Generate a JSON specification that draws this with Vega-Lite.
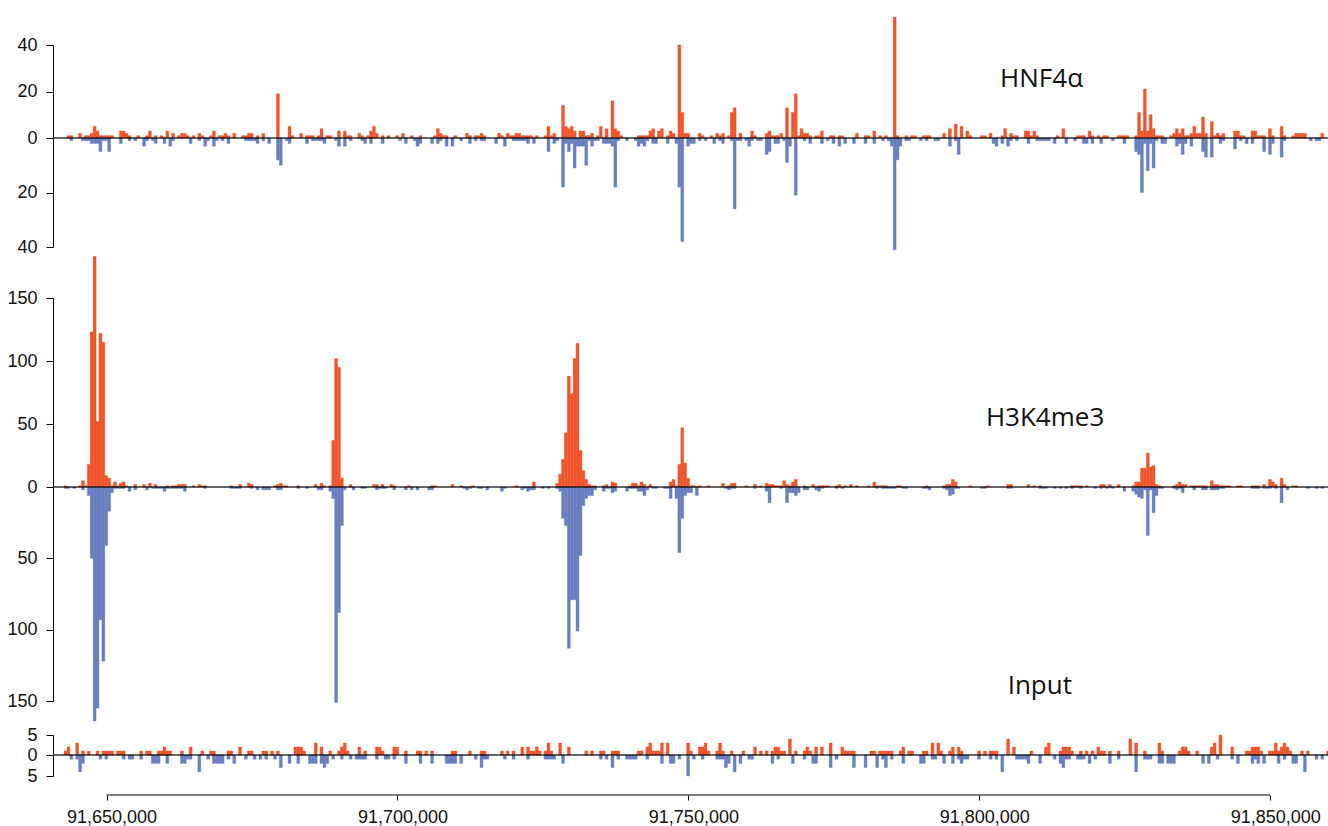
{
"$schema":"https://vega.github.io/schema/vega-lite/v6.json",
"padding":{"left":6,"top":16,"right":0,"bottom":0},
"background":"white",
"config":{"view":{"stroke":null},"axis":{"grid":false}},
"datasets":{
"hnf":[
{"x":91643200,"e":91643700,"f":1},{"x":91643700,"e":91644200,"f":1,"r":1},{"x":91645200,"e":91645700,"f":2},{"x":91645700,"e":91646200,"r":1},{"x":91646200,"e":91646700,"f":1,"r":1},{"x":91646700,"e":91647200,"f":1,"r":1},{"x":91647200,"e":91647700,"f":2,"r":2},{"x":91647700,"e":91648200,"f":5,"r":2},{"x":91648200,"e":91648700,"f":3,"r":2},{"x":91648700,"e":91649200,"f":1,"r":5},{"x":91649200,"e":91649700,"f":1,"r":1},{"x":91649700,"e":91650200,"f":1,"r":1},{"x":91650200,"e":91650700,"f":1,"r":5},{"x":91650700,"e":91651200,"f":1},{"x":91652200,"e":91652700,"f":3,"r":2},{"x":91652700,"e":91653200,"f":3},{"x":91653200,"e":91653700,"f":2},{"x":91653700,"e":91654200,"f":1,"r":1},{"x":91654700,"e":91655200,"r":1},{"x":91655200,"e":91655700,"f":1},{"x":91656200,"e":91656700,"r":3},{"x":91656700,"e":91657200,"f":1,"r":1},{"x":91657200,"e":91657700,"f":3},{"x":91657700,"e":91658200,"r":1},{"x":91658200,"e":91658700,"f":1,"r":2},{"x":91659200,"e":91659700,"f":1},{"x":91659700,"e":91660200,"r":2},{"x":91660200,"e":91660700,"f":3},{"x":91660700,"e":91661200,"r":3},{"x":91661200,"e":91661700,"f":2,"r":1},{"x":91662200,"e":91662700,"f":1},{"x":91662700,"e":91663200,"f":2},{"x":91663200,"e":91663700,"f":2},{"x":91663700,"e":91664200,"f":1},{"x":91664200,"e":91664700,"r":2},{"x":91664700,"e":91665200,"f":1},{"x":91665700,"e":91666200,"f":2,"r":1},{"x":91666200,"e":91666700,"f":1},{"x":91666700,"e":91667200,"r":3},{"x":91667200,"e":91667700,"r":1},{"x":91667700,"e":91668200,"f":1},{"x":91668200,"e":91668700,"f":3,"r":3},{"x":91668700,"e":91669200,"r":1},{"x":91669200,"e":91669700,"f":1},{"x":91669700,"e":91670200,"f":1,"r":1},{"x":91670200,"e":91670700,"f":2},{"x":91670700,"e":91671200,"f":1,"r":2},{"x":91671700,"e":91672200,"f":2},{"x":91673200,"e":91673700,"f":1},{"x":91673700,"e":91674200,"f":1,"r":1},{"x":91674200,"e":91674700,"f":2,"r":1},{"x":91674700,"e":91675200,"f":2,"r":1},{"x":91675200,"e":91675700,"r":1},{"x":91675700,"e":91676200,"f":1,"r":2},{"x":91676700,"e":91677200,"f":2,"r":1},{"x":91677700,"e":91678200,"r":2},{"x":91679200,"e":91679700,"f":19,"r":8},{"x":91679700,"e":91680200,"r":10},{"x":91680700,"e":91681200,"r":1},{"x":91681200,"e":91681700,"f":5,"r":2},{"x":91681700,"e":91682200,"f":1},{"x":91683200,"e":91683700,"f":2},{"x":91684200,"e":91684700,"f":1,"r":2},{"x":91684700,"e":91685200,"f":1},{"x":91685200,"e":91685700,"f":1,"r":1},{"x":91685700,"e":91686200,"r":1},{"x":91686200,"e":91686700,"f":1,"r":1},{"x":91686700,"e":91687200,"f":4,"r":1},{"x":91687200,"e":91687700,"r":2},{"x":91687700,"e":91688200,"f":1},{"x":91688200,"e":91688700,"f":1},{"x":91689200,"e":91689700,"r":1},{"x":91689700,"e":91690200,"f":3,"r":3},{"x":91690700,"e":91691200,"f":3,"r":3},{"x":91691200,"e":91691700,"f":1},{"x":91691700,"e":91692200,"f":1,"r":1},{"x":91693200,"e":91693700,"f":2},{"x":91693700,"e":91694200,"f":1,"r":1},{"x":91694200,"e":91694700,"r":2},{"x":91694700,"e":91695200,"f":1},{"x":91695200,"e":91695700,"f":3,"r":2},{"x":91695700,"e":91696200,"f":5},{"x":91696200,"e":91696700,"f":2},{"x":91697200,"e":91697700,"f":1,"r":2},{"x":91698200,"e":91698700,"f":1},{"x":91699700,"e":91700200,"f":1},{"x":91700200,"e":91700700,"r":1},{"x":91700700,"e":91701200,"f":2},{"x":91701200,"e":91701700,"r":2},{"x":91702200,"e":91702700,"f":1},{"x":91702700,"e":91703200,"r":1},{"x":91703200,"e":91703700,"r":3},{"x":91703700,"e":91704200,"f":1,"r":2},{"x":91705700,"e":91706200,"r":2},{"x":91706200,"e":91706700,"f":1},{"x":91706700,"e":91707200,"f":4,"r":2},{"x":91707200,"e":91707700,"f":2,"r":1},{"x":91707700,"e":91708200,"f":1},{"x":91708200,"e":91708700,"f":1,"r":3},{"x":91709200,"e":91709700,"r":3},{"x":91709700,"e":91710200,"f":1},{"x":91710700,"e":91711200,"r":1},{"x":91711700,"e":91712200,"f":2},{"x":91712200,"e":91712700,"f":1,"r":2},{"x":91713200,"e":91713700,"f":1,"r":1},{"x":91713700,"e":91714200,"f":1},{"x":91714200,"e":91714700,"f":2,"r":1},{"x":91714700,"e":91715200,"f":1,"r":1},{"x":91716700,"e":91717200,"r":2},{"x":91717200,"e":91717700,"f":2},{"x":91717700,"e":91718200,"f":1},{"x":91718200,"e":91718700,"r":3},{"x":91718700,"e":91719200,"f":2},{"x":91719200,"e":91719700,"f":1},{"x":91719700,"e":91720200,"f":1,"r":1},{"x":91720200,"e":91720700,"f":2,"r":1},{"x":91720700,"e":91721200,"f":2,"r":1},{"x":91721200,"e":91721700,"f":1,"r":1},{"x":91721700,"e":91722200,"f":1,"r":1},{"x":91722200,"e":91722700,"f":1,"r":2},{"x":91722700,"e":91723200,"f":1},{"x":91723200,"e":91723700,"r":2},{"x":91723700,"e":91724200,"f":1},{"x":91725200,"e":91725700,"f":1},{"x":91725700,"e":91726200,"f":5,"r":5},{"x":91726200,"e":91726700,"f":1},{"x":91726700,"e":91727200,"f":2,"r":2},{"x":91727200,"e":91727700,"r":1},{"x":91728200,"e":91728700,"f":14,"r":18},{"x":91728700,"e":91729200,"f":5,"r":2},{"x":91729200,"e":91729700,"f":4,"r":5},{"x":91729700,"e":91730200,"f":5,"r":2},{"x":91730200,"e":91730700,"f":3,"r":11},{"x":91730700,"e":91731200,"r":3},{"x":91731200,"e":91731700,"f":3,"r":3},{"x":91731700,"e":91732200,"f":3,"r":3},{"x":91732200,"e":91732700,"f":1,"r":10},{"x":91732700,"e":91733200,"f":1,"r":1},{"x":91733200,"e":91733700,"f":2,"r":3},{"x":91733700,"e":91734200,"r":1},{"x":91734200,"e":91734700,"f":1,"r":1},{"x":91734700,"e":91735200,"f":5},{"x":91735200,"e":91735700,"r":2},{"x":91735700,"e":91736200,"f":4,"r":2},{"x":91736200,"e":91736700,"r":2},{"x":91736700,"e":91737200,"f":16,"r":3},{"x":91737200,"e":91737700,"f":4,"r":18},{"x":91737700,"e":91738200,"f":3,"r":1},{"x":91738200,"e":91738700,"f":1},{"x":91739200,"e":91739700,"r":1},{"x":91740700,"e":91741200,"r":1},{"x":91741200,"e":91741700,"f":1,"r":3},{"x":91741700,"e":91742200,"f":1,"r":2},{"x":91742200,"e":91742700,"f":1,"r":3},{"x":91742700,"e":91743200,"f":1,"r":1},{"x":91743200,"e":91743700,"f":3},{"x":91743700,"e":91744200,"f":4,"r":2},{"x":91744200,"e":91744700,"r":2},{"x":91744700,"e":91745200,"f":3},{"x":91745200,"e":91745700,"f":4},{"x":91746200,"e":91746700,"f":1,"r":2},{"x":91746700,"e":91747200,"f":3},{"x":91747200,"e":91747700,"f":2},{"x":91747700,"e":91748200,"r":2},{"x":91748200,"e":91748700,"f":40,"r":18},{"x":91748700,"e":91749200,"f":11,"r":38},{"x":91749200,"e":91749700,"f":2},{"x":91749700,"e":91750200,"f":2,"r":3},{"x":91750200,"e":91750700,"r":2},{"x":91750700,"e":91751200,"r":2},{"x":91751700,"e":91752200,"f":2,"r":1},{"x":91752200,"e":91752700,"f":1},{"x":91752700,"e":91753200,"r":1},{"x":91753700,"e":91754200,"f":1},{"x":91754200,"e":91754700,"r":2},{"x":91754700,"e":91755200,"f":2},{"x":91755200,"e":91755700,"f":1,"r":1},{"x":91755700,"e":91756200,"f":2,"r":2},{"x":91756700,"e":91757200,"f":1},{"x":91757200,"e":91757700,"f":11,"r":1},{"x":91757700,"e":91758200,"f":13,"r":26},{"x":91758200,"e":91758700,"r":1},{"x":91758700,"e":91759200,"f":2,"r":1},{"x":91759700,"e":91760200,"r":1},{"x":91760200,"e":91760700,"r":3},{"x":91760700,"e":91761200,"f":3,"r":1},{"x":91761200,"e":91761700,"f":1},{"x":91761700,"e":91762200,"r":1},{"x":91762200,"e":91762700,"r":1},{"x":91763200,"e":91763700,"f":2,"r":6},{"x":91763700,"e":91764200,"f":3,"r":5},{"x":91764200,"e":91764700,"f":1},{"x":91764700,"e":91765200,"f":1,"r":2},{"x":91765200,"e":91765700,"f":1,"r":2},{"x":91765700,"e":91766200,"f":2},{"x":91766200,"e":91766700,"r":1},{"x":91766700,"e":91767200,"f":13,"r":9},{"x":91767200,"e":91767700,"r":3},{"x":91767700,"e":91768200,"f":11},{"x":91768200,"e":91768700,"f":19,"r":21},{"x":91768700,"e":91769200,"f":1},{"x":91769200,"e":91769700,"f":4},{"x":91769700,"e":91770200,"f":2,"r":1},{"x":91770200,"e":91770700,"f":2},{"x":91770700,"e":91771200,"f":1,"r":2},{"x":91771700,"e":91772200,"f":1},{"x":91772200,"e":91772700,"f":1},{"x":91772700,"e":91773200,"f":3,"r":2},{"x":91773700,"e":91774200,"r":1},{"x":91774200,"e":91774700,"f":1},{"x":91774700,"e":91775200,"f":1,"r":2},{"x":91775700,"e":91776200,"f":1,"r":3},{"x":91776200,"e":91776700,"f":1},{"x":91776700,"e":91777200,"r":2},{"x":91778200,"e":91778700,"r":2},{"x":91778700,"e":91779200,"f":2},{"x":91780200,"e":91780700,"f":1,"r":2},{"x":91780700,"e":91781200,"f":1},{"x":91781700,"e":91782200,"f":3,"r":2},{"x":91782700,"e":91783200,"f":1},{"x":91783200,"e":91783700,"r":1},{"x":91783700,"e":91784200,"f":1},{"x":91784200,"e":91784700,"r":1},{"x":91784700,"e":91785200,"r":3},{"x":91785200,"e":91785700,"f":52,"r":41},{"x":91785700,"e":91786200,"f":1,"r":8},{"x":91786200,"e":91786700,"r":3},{"x":91787200,"e":91787700,"f":1,"r":1},{"x":91787700,"e":91788200,"r":1},{"x":91788200,"e":91788700,"f":1},{"x":91788700,"e":91789200,"f":1},{"x":91789700,"e":91790200,"r":1},{"x":91790200,"e":91790700,"f":1},{"x":91790700,"e":91791200,"f":1,"r":1},{"x":91791200,"e":91791700,"f":1},{"x":91792200,"e":91792700,"r":1},{"x":91792700,"e":91793200,"r":1},{"x":91793700,"e":91794200,"f":2},{"x":91794700,"e":91795200,"f":4,"r":3},{"x":91795700,"e":91796200,"f":6,"r":1},{"x":91796200,"e":91796700,"r":6},{"x":91796700,"e":91797200,"f":5},{"x":91797700,"e":91798200,"f":3},{"x":91798200,"e":91798700,"f":1},{"x":91800200,"e":91800700,"f":1},{"x":91800700,"e":91801200,"f":1},{"x":91801700,"e":91802200,"f":2},{"x":91802200,"e":91802700,"r":2},{"x":91802700,"e":91803200,"r":3},{"x":91803700,"e":91804200,"f":1,"r":2},{"x":91804200,"e":91804700,"f":4},{"x":91804700,"e":91805200,"r":3},{"x":91805200,"e":91805700,"f":2,"r":1},{"x":91805700,"e":91806200,"f":1},{"x":91806200,"e":91806700,"f":1,"r":1},{"x":91807700,"e":91808200,"f":3},{"x":91808200,"e":91808700,"f":3,"r":2},{"x":91808700,"e":91809200,"f":1},{"x":91809200,"e":91809700,"f":3},{"x":91809700,"e":91810200,"f":1,"r":1},{"x":91810200,"e":91810700,"r":1},{"x":91810700,"e":91811200,"r":1},{"x":91811200,"e":91811700,"r":1},{"x":91811700,"e":91812200,"r":1},{"x":91812700,"e":91813200,"r":2},{"x":91813200,"e":91813700,"f":1},{"x":91814200,"e":91814700,"f":4},{"x":91814700,"e":91815200,"r":2},{"x":91816200,"e":91816700,"r":1},{"x":91816700,"e":91817200,"f":1},{"x":91817200,"e":91817700,"f":1},{"x":91817700,"e":91818200,"f":1,"r":2},{"x":91818200,"e":91818700,"r":2},{"x":91818700,"e":91819200,"f":3},{"x":91819200,"e":91819700,"f":1,"r":2},{"x":91820200,"e":91820700,"f":1},{"x":91820700,"e":91821200,"r":2},{"x":91821200,"e":91821700,"f":1},{"x":91821700,"e":91822200,"f":1},{"x":91822700,"e":91823200,"r":1},{"x":91823700,"e":91824200,"f":1},{"x":91824200,"e":91824700,"f":1},{"x":91824700,"e":91825200,"f":1,"r":2},{"x":91825200,"e":91825700,"f":1},{"x":91826700,"e":91827200,"f":1,"r":5},{"x":91827200,"e":91827700,"f":11,"r":6},{"x":91827700,"e":91828200,"f":3,"r":20},{"x":91828200,"e":91828700,"f":21,"r":2},{"x":91828700,"e":91829200,"f":3,"r":12},{"x":91829200,"e":91829700,"f":10,"r":2},{"x":91829700,"e":91830200,"f":4,"r":11},{"x":91830200,"e":91830700,"f":1,"r":1},{"x":91830700,"e":91831200,"f":1},{"x":91831200,"e":91831700,"f":1,"r":2},{"x":91831700,"e":91832200,"r":2},{"x":91832700,"e":91833200,"f":1},{"x":91833200,"e":91833700,"f":2},{"x":91833700,"e":91834200,"f":4,"r":3},{"x":91834200,"e":91834700,"f":2,"r":2},{"x":91834700,"e":91835200,"f":4,"r":6},{"x":91835200,"e":91835700,"f":1,"r":2},{"x":91835700,"e":91836200,"f":1},{"x":91836200,"e":91836700,"f":2,"r":3},{"x":91836700,"e":91837200,"f":5},{"x":91837200,"e":91837700,"f":2},{"x":91837700,"e":91838200,"f":2},{"x":91838200,"e":91838700,"f":9,"r":5},{"x":91838700,"e":91839200,"f":2,"r":7},{"x":91839700,"e":91840200,"f":7,"r":7},{"x":91840200,"e":91840700,"f":1},{"x":91840700,"e":91841200,"f":2},{"x":91841200,"e":91841700,"f":1,"r":2},{"x":91841700,"e":91842200,"f":2,"r":1},{"x":91843700,"e":91844200,"f":3,"r":4},{"x":91844200,"e":91844700,"f":3},{"x":91844700,"e":91845200,"f":1,"r":1},{"x":91845200,"e":91845700,"f":1},{"x":91845700,"e":91846200,"r":2},{"x":91846700,"e":91847200,"f":3,"r":2},{"x":91847200,"e":91847700,"f":3},{"x":91847700,"e":91848200,"f":1},{"x":91848200,"e":91848700,"f":1},{"x":91848700,"e":91849200,"f":1,"r":5},{"x":91849700,"e":91850200,"f":4,"r":6},{"x":91850200,"e":91850700,"f":1,"r":2},{"x":91851700,"e":91852200,"f":5,"r":7},{"x":91852200,"e":91852700,"f":1,"r":1},{"x":91853700,"e":91854200,"f":1},{"x":91854200,"e":91854700,"f":2},{"x":91854700,"e":91855200,"f":2},{"x":91855200,"e":91855700,"f":2},{"x":91855700,"e":91856200,"f":2},{"x":91856700,"e":91857200,"r":1},{"x":91857700,"e":91858200,"r":1},{"x":91858200,"e":91858700,"r":1},{"x":91858700,"e":91859200,"f":2}
],
"h3k":[
{"x":91642700,"e":91643200,"f":1,"r":1},{"x":91643200,"e":91643700,"r":1},{"x":91644200,"e":91644700,"r":1},{"x":91645200,"e":91645700,"f":1},{"x":91645700,"e":91646200,"f":5,"r":2},{"x":91646200,"e":91646700,"f":1},{"x":91646700,"e":91647200,"f":18,"r":6},{"x":91647200,"e":91647700,"f":123,"r":50},{"x":91647700,"e":91648200,"f":183,"r":164},{"x":91648200,"e":91648700,"f":52,"r":155},{"x":91648700,"e":91649200,"f":122,"r":93},{"x":91649200,"e":91649700,"f":115,"r":122},{"x":91649700,"e":91650200,"f":9,"r":41},{"x":91650200,"e":91650700,"f":7,"r":17},{"x":91650700,"e":91651200,"f":1,"r":4},{"x":91651200,"e":91651700,"f":4,"r":1},{"x":91651700,"e":91652200,"f":1,"r":1},{"x":91652200,"e":91652700,"f":3,"r":1},{"x":91652700,"e":91653200,"f":4,"r":1},{"x":91653200,"e":91653700,"f":1},{"x":91653700,"e":91654200,"r":3},{"x":91654700,"e":91655200,"f":2,"r":2},{"x":91656200,"e":91656700,"f":2},{"x":91656700,"e":91657200,"r":2},{"x":91657200,"e":91657700,"f":3},{"x":91657700,"e":91658200,"r":1},{"x":91658200,"e":91658700,"f":2,"r":1},{"x":91658700,"e":91659200,"r":1},{"x":91659200,"e":91659700,"r":1},{"x":91659700,"e":91660200,"r":3},{"x":91660200,"e":91660700,"f":1,"r":1},{"x":91660700,"e":91661200,"r":1},{"x":91661200,"e":91661700,"f":1,"r":1},{"x":91661700,"e":91662200,"f":1,"r":1},{"x":91662200,"e":91662700,"f":2,"r":1},{"x":91662700,"e":91663200,"f":2,"r":1},{"x":91663200,"e":91663700,"f":2,"r":3},{"x":91664700,"e":91665200,"f":1},{"x":91665700,"e":91666200,"f":2},{"x":91666200,"e":91666700,"f":1},{"x":91666700,"e":91667200,"f":1,"r":1},{"x":91671200,"e":91671700,"f":1,"r":1},{"x":91671700,"e":91672200,"r":1},{"x":91672200,"e":91672700,"r":1},{"x":91672700,"e":91673200,"f":2,"r":1},{"x":91674200,"e":91674700,"f":3},{"x":91674700,"e":91675200,"f":2,"r":1},{"x":91675700,"e":91676200,"r":2},{"x":91676700,"e":91677200,"r":2},{"x":91677200,"e":91677700,"r":2},{"x":91677700,"e":91678200,"r":2},{"x":91678700,"e":91679200,"f":1},{"x":91679200,"e":91679700,"f":2,"r":2},{"x":91679700,"e":91680200,"f":3,"r":2},{"x":91680200,"e":91680700,"f":1},{"x":91680700,"e":91681200,"f":1},{"x":91682700,"e":91683200,"f":1,"r":1},{"x":91684200,"e":91684700,"r":1},{"x":91685700,"e":91686200,"f":2},{"x":91686200,"e":91686700,"r":2},{"x":91686700,"e":91687200,"f":3,"r":2},{"x":91687200,"e":91687700,"f":1},{"x":91688200,"e":91688700,"f":1,"r":3},{"x":91688700,"e":91689200,"f":37,"r":8},{"x":91689200,"e":91689700,"f":102,"r":151},{"x":91689700,"e":91690200,"f":95,"r":88},{"x":91690200,"e":91690700,"f":7,"r":27},{"x":91690700,"e":91691200,"r":2},{"x":91691700,"e":91692200,"f":2},{"x":91692200,"e":91692700,"r":2},{"x":91693700,"e":91694200,"r":1},{"x":91694200,"e":91694700,"r":1},{"x":91695700,"e":91696200,"f":2},{"x":91696200,"e":91696700,"f":2,"r":2},{"x":91696700,"e":91697200,"r":1},{"x":91697200,"e":91697700,"f":2,"r":1},{"x":91697700,"e":91698200,"r":1},{"x":91698700,"e":91699200,"f":2},{"x":91699200,"e":91699700,"f":1,"r":2},{"x":91701200,"e":91701700,"r":2},{"x":91701700,"e":91702200,"f":1},{"x":91702200,"e":91702700,"r":2},{"x":91703200,"e":91703700,"r":2},{"x":91705200,"e":91705700,"r":2},{"x":91705700,"e":91706200,"f":1,"r":2},{"x":91706200,"e":91706700,"f":1},{"x":91709200,"e":91709700,"f":2},{"x":91710700,"e":91711200,"f":1},{"x":91711200,"e":91711700,"r":1},{"x":91711700,"e":91712200,"r":2},{"x":91712200,"e":91712700,"r":1},{"x":91712700,"e":91713200,"f":1},{"x":91713700,"e":91714200,"r":1},{"x":91714200,"e":91714700,"r":1},{"x":91715200,"e":91715700,"r":2},{"x":91717700,"e":91718200,"r":3},{"x":91718200,"e":91718700,"r":1},{"x":91720200,"e":91720700,"f":1},{"x":91721200,"e":91721700,"r":2},{"x":91721700,"e":91722200,"r":1},{"x":91722200,"e":91722700,"r":3},{"x":91722700,"e":91723200,"r":2},{"x":91723200,"e":91723700,"f":4,"r":2},{"x":91724700,"e":91725200,"r":1},{"x":91725700,"e":91726200,"r":1},{"x":91727200,"e":91727700,"f":3,"r":1},{"x":91727700,"e":91728200,"f":10,"r":3},{"x":91728200,"e":91728700,"f":22,"r":22},{"x":91728700,"e":91729200,"f":43,"r":27},{"x":91729200,"e":91729700,"f":88,"r":113},{"x":91729700,"e":91730200,"f":74,"r":79},{"x":91730200,"e":91730700,"f":102,"r":79},{"x":91730700,"e":91731200,"f":114,"r":101},{"x":91731200,"e":91731700,"f":29,"r":48},{"x":91731700,"e":91732200,"f":13,"r":13},{"x":91732200,"e":91732700,"f":6,"r":8},{"x":91732700,"e":91733200,"f":2,"r":6},{"x":91733200,"e":91733700,"f":1,"r":6},{"x":91733700,"e":91734200,"f":1,"r":2},{"x":91735200,"e":91735700,"f":1,"r":3},{"x":91735700,"e":91736200,"f":2,"r":1},{"x":91736200,"e":91736700,"r":1},{"x":91736700,"e":91737200,"f":4,"r":4},{"x":91737200,"e":91737700,"f":3,"r":3},{"x":91739200,"e":91739700,"r":3},{"x":91739700,"e":91740200,"f":1,"r":1},{"x":91740200,"e":91740700,"f":3,"r":1},{"x":91740700,"e":91741200,"f":3,"r":1},{"x":91741200,"e":91741700,"f":1,"r":3},{"x":91741700,"e":91742200,"f":4,"r":3},{"x":91742200,"e":91742700,"f":2,"r":6},{"x":91742700,"e":91743200,"r":2},{"x":91743200,"e":91743700,"f":2},{"x":91743700,"e":91744200,"r":1},{"x":91744200,"e":91744700,"r":1},{"x":91745700,"e":91746200,"r":1},{"x":91746200,"e":91746700,"r":1},{"x":91746700,"e":91747200,"f":4,"r":8},{"x":91747200,"e":91747700,"f":6},{"x":91747700,"e":91748200,"f":1,"r":8},{"x":91748200,"e":91748700,"f":18,"r":46},{"x":91748700,"e":91749200,"f":47,"r":22},{"x":91749200,"e":91749700,"f":19,"r":6},{"x":91749700,"e":91750200,"f":7,"r":4},{"x":91750200,"e":91750700,"f":1,"r":4},{"x":91750700,"e":91751200,"f":1},{"x":91751200,"e":91751700,"r":6},{"x":91751700,"e":91752200,"f":1},{"x":91753200,"e":91753700,"f":1},{"x":91755700,"e":91756200,"f":3},{"x":91756200,"e":91756700,"r":1},{"x":91756700,"e":91757200,"f":1,"r":2},{"x":91757200,"e":91757700,"f":3,"r":1},{"x":91757700,"e":91758200,"f":3,"r":1},{"x":91759700,"e":91760200,"f":1},{"x":91761200,"e":91761700,"f":2,"r":1},{"x":91762200,"e":91762700,"f":1},{"x":91763200,"e":91763700,"f":3,"r":3},{"x":91763700,"e":91764200,"f":2,"r":11},{"x":91764200,"e":91764700,"f":2},{"x":91764700,"e":91765200,"f":1},{"x":91765200,"e":91765700,"f":1},{"x":91765700,"e":91766200,"f":1,"r":1},{"x":91766200,"e":91766700,"f":5},{"x":91766700,"e":91767200,"f":2,"r":11},{"x":91767200,"e":91767700,"f":1,"r":4},{"x":91767700,"e":91768200,"f":4,"r":4},{"x":91768200,"e":91768700,"f":6,"r":6},{"x":91768700,"e":91769200,"r":4},{"x":91769700,"e":91770200,"f":1,"r":2},{"x":91770200,"e":91770700,"r":2},{"x":91771200,"e":91771700,"f":2},{"x":91771700,"e":91772200,"r":2},{"x":91772200,"e":91772700,"f":1,"r":3},{"x":91772700,"e":91773200,"f":1,"r":1},{"x":91773200,"e":91773700,"f":1},{"x":91773700,"e":91774200,"f":1},{"x":91775200,"e":91775700,"f":1,"r":1},{"x":91775700,"e":91776200,"f":2},{"x":91776200,"e":91776700,"r":1},{"x":91776700,"e":91777200,"f":1},{"x":91777700,"e":91778200,"f":2},{"x":91778700,"e":91779200,"f":1},{"x":91780700,"e":91781200,"f":1},{"x":91781700,"e":91782200,"f":4},{"x":91782200,"e":91782700,"f":1,"r":1},{"x":91782700,"e":91783200,"f":1},{"x":91783200,"e":91783700,"f":1,"r":1},{"x":91783700,"e":91784200,"f":1,"r":1},{"x":91784200,"e":91784700,"r":1},{"x":91784700,"e":91785200,"r":1},{"x":91785200,"e":91785700,"r":1},{"x":91785700,"e":91786200,"f":1},{"x":91786200,"e":91786700,"f":1},{"x":91786700,"e":91787200,"r":1},{"x":91787200,"e":91787700,"r":1},{"x":91790200,"e":91790700,"r":1},{"x":91790700,"e":91791200,"f":1,"r":1},{"x":91791200,"e":91791700,"r":2},{"x":91793700,"e":91794200,"f":1,"r":1},{"x":91794200,"e":91794700,"f":2,"r":2},{"x":91794700,"e":91795200,"f":2,"r":6},{"x":91795200,"e":91795700,"f":6,"r":5},{"x":91795700,"e":91796200,"f":4,"r":1},{"x":91796200,"e":91796700,"r":1},{"x":91798200,"e":91798700,"f":1},{"x":91800200,"e":91800700,"r":1},{"x":91800700,"e":91801200,"r":1},{"x":91801200,"e":91801700,"f":1},{"x":91804700,"e":91805200,"f":2,"r":1},{"x":91805200,"e":91805700,"f":2,"r":1},{"x":91808200,"e":91808700,"f":2},{"x":91809200,"e":91809700,"f":1},{"x":91810200,"e":91810700,"f":1,"r":1},{"x":91810700,"e":91811200,"r":1},{"x":91811200,"e":91811700,"r":1},{"x":91812700,"e":91813200,"r":1},{"x":91813700,"e":91814200,"r":1},{"x":91814700,"e":91815200,"r":1},{"x":91815700,"e":91816200,"f":1,"r":1},{"x":91816200,"e":91816700,"f":1},{"x":91816700,"e":91817200,"f":1},{"x":91817200,"e":91817700,"f":1,"r":1},{"x":91818200,"e":91818700,"f":1},{"x":91819700,"e":91820200,"r":1},{"x":91820700,"e":91821200,"f":2,"r":1},{"x":91821200,"e":91821700,"f":2},{"x":91821700,"e":91822200,"r":1},{"x":91822200,"e":91822700,"f":2},{"x":91822700,"e":91823200,"r":1},{"x":91823700,"e":91824200,"f":2},{"x":91824700,"e":91825200,"r":3},{"x":91826200,"e":91826700,"f":1,"r":3},{"x":91826700,"e":91827200,"f":4,"r":5},{"x":91827200,"e":91827700,"f":4,"r":7},{"x":91827700,"e":91828200,"f":15,"r":8},{"x":91828200,"e":91828700,"f":15,"r":2},{"x":91828700,"e":91829200,"f":27,"r":34},{"x":91829200,"e":91829700,"f":16,"r":2},{"x":91829700,"e":91830200,"f":17,"r":18},{"x":91830200,"e":91830700,"f":2,"r":6},{"x":91830700,"e":91831200,"f":1,"r":1},{"x":91831200,"e":91831700,"r":1},{"x":91833200,"e":91833700,"f":1,"r":1},{"x":91833700,"e":91834200,"f":2,"r":2},{"x":91834200,"e":91834700,"f":4,"r":1},{"x":91834700,"e":91835200,"f":2,"r":4},{"x":91835200,"e":91835700,"f":2},{"x":91836200,"e":91836700,"f":1},{"x":91836700,"e":91837200,"f":1,"r":2},{"x":91837200,"e":91837700,"f":1},{"x":91837700,"e":91838200,"f":1},{"x":91838200,"e":91838700,"f":1,"r":2},{"x":91838700,"e":91839200,"f":1,"r":2},{"x":91839700,"e":91840200,"f":5,"r":2},{"x":91840200,"e":91840700,"f":2,"r":2},{"x":91840700,"e":91841200,"f":2,"r":2},{"x":91841200,"e":91841700,"f":1,"r":1},{"x":91841700,"e":91842200,"f":1,"r":1},{"x":91842200,"e":91842700,"f":1},{"x":91842700,"e":91843200,"f":1},{"x":91844200,"e":91844700,"f":1},{"x":91844700,"e":91845200,"f":1},{"x":91846700,"e":91847200,"f":1,"r":1},{"x":91847200,"e":91847700,"f":1,"r":1},{"x":91847700,"e":91848200,"f":1,"r":1},{"x":91848700,"e":91849200,"f":2,"r":1},{"x":91849200,"e":91849700,"r":1},{"x":91849700,"e":91850200,"f":6,"r":1},{"x":91850200,"e":91850700,"f":4},{"x":91850700,"e":91851200,"f":2,"r":1},{"x":91851700,"e":91852200,"f":7,"r":11},{"x":91852200,"e":91852700,"f":2},{"x":91852700,"e":91853200,"r":2},{"x":91853700,"e":91854200,"f":1},{"x":91854200,"e":91854700,"f":1},{"x":91856200,"e":91856700,"r":1},{"x":91857700,"e":91858200,"r":1},{"x":91858700,"e":91859200,"r":1}
],
"inp":[
{"x":91642700,"e":91643200,"f":1},{"x":91643200,"e":91643700,"f":2},{"x":91643700,"e":91644200,"r":1},{"x":91644700,"e":91645200,"f":3,"r":1},{"x":91645200,"e":91645700,"r":4},{"x":91645700,"e":91646200,"f":1,"r":2},{"x":91646700,"e":91647200,"f":1},{"x":91648200,"e":91648700,"f":1},{"x":91648700,"e":91649200,"r":1},{"x":91649200,"e":91649700,"f":1},{"x":91649700,"e":91650200,"f":1,"r":1},{"x":91650200,"e":91650700,"f":1},{"x":91650700,"e":91651200,"f":1},{"x":91651700,"e":91652200,"f":1},{"x":91652200,"e":91652700,"f":1},{"x":91652700,"e":91653200,"f":1,"r":1},{"x":91653700,"e":91654200,"r":1},{"x":91654200,"e":91654700,"r":1},{"x":91655700,"e":91656200,"f":1,"r":1},{"x":91656700,"e":91657200,"f":1},{"x":91657200,"e":91657700,"f":1},{"x":91657700,"e":91658200,"r":2},{"x":91658200,"e":91658700,"r":2},{"x":91658700,"e":91659200,"f":1,"r":2},{"x":91659200,"e":91659700,"f":1},{"x":91659700,"e":91660200,"f":2},{"x":91660200,"e":91660700,"f":1,"r":2},{"x":91660700,"e":91661200,"f":1},{"x":91662700,"e":91663200,"f":1,"r":2},{"x":91663200,"e":91663700,"r":2},{"x":91663700,"e":91664200,"r":1},{"x":91664200,"e":91664700,"f":2,"r":1},{"x":91665700,"e":91666200,"r":4},{"x":91666200,"e":91666700,"f":1},{"x":91667200,"e":91667700,"r":1},{"x":91667700,"e":91668200,"f":1},{"x":91668200,"e":91668700,"f":1,"r":2},{"x":91668700,"e":91669200,"r":2},{"x":91669200,"e":91669700,"r":2},{"x":91669700,"e":91670200,"r":2},{"x":91670700,"e":91671200,"f":1,"r":1},{"x":91671200,"e":91671700,"f":1},{"x":91671700,"e":91672200,"r":2},{"x":91672700,"e":91673200,"f":2},{"x":91673700,"e":91674200,"r":1},{"x":91674200,"e":91674700,"f":1},{"x":91674700,"e":91675200,"f":1},{"x":91675200,"e":91675700,"r":1},{"x":91676200,"e":91676700,"r":1},{"x":91676700,"e":91677200,"f":1},{"x":91677200,"e":91677700,"f":1,"r":1},{"x":91678200,"e":91678700,"f":1},{"x":91678700,"e":91679200,"r":1},{"x":91679200,"e":91679700,"f":1},{"x":91679700,"e":91680200,"r":3},{"x":91681200,"e":91681700,"r":2},{"x":91682200,"e":91682700,"f":2},{"x":91682700,"e":91683200,"f":2,"r":2},{"x":91683200,"e":91683700,"f":2},{"x":91683700,"e":91684200,"f":1},{"x":91684700,"e":91685200,"r":2},{"x":91685200,"e":91685700,"r":2},{"x":91685700,"e":91686200,"f":3,"r":2},{"x":91686700,"e":91687200,"f":2,"r":2},{"x":91687200,"e":91687700,"r":3},{"x":91687700,"e":91688200,"r":2},{"x":91688200,"e":91688700,"f":1},{"x":91688700,"e":91689200,"r":1},{"x":91689700,"e":91690200,"f":1},{"x":91690200,"e":91690700,"f":2,"r":1},{"x":91690700,"e":91691200,"f":3},{"x":91691200,"e":91691700,"f":1},{"x":91691700,"e":91692200,"r":1},{"x":91692700,"e":91693200,"r":1},{"x":91693200,"e":91693700,"f":2,"r":1},{"x":91693700,"e":91694200,"r":1},{"x":91694200,"e":91694700,"f":1,"r":1},{"x":91696200,"e":91696700,"f":2,"r":1},{"x":91696700,"e":91697200,"f":2},{"x":91697200,"e":91697700,"f":1},{"x":91697700,"e":91698200,"r":1},{"x":91698200,"e":91698700,"r":1},{"x":91699200,"e":91699700,"f":2,"r":1},{"x":91699700,"e":91700200,"f":2},{"x":91701200,"e":91701700,"f":1,"r":2},{"x":91703200,"e":91703700,"f":1},{"x":91703700,"e":91704200,"f":1,"r":2},{"x":91704700,"e":91705200,"f":1},{"x":91705700,"e":91706200,"f":1,"r":2},{"x":91708200,"e":91708700,"r":2},{"x":91708700,"e":91709200,"r":2},{"x":91709200,"e":91709700,"f":1,"r":2},{"x":91709700,"e":91710200,"f":1,"r":2},{"x":91710700,"e":91711200,"r":2},{"x":91712200,"e":91712700,"f":1},{"x":91713200,"e":91713700,"r":1},{"x":91714200,"e":91714700,"f":1,"r":3},{"x":91714700,"e":91715200,"f":1,"r":1},{"x":91715200,"e":91715700,"r":1},{"x":91717700,"e":91718200,"f":1},{"x":91718200,"e":91718700,"r":1},{"x":91718700,"e":91719200,"f":1},{"x":91719700,"e":91720200,"f":1,"r":1},{"x":91721200,"e":91721700,"f":2},{"x":91722200,"e":91722700,"f":2,"r":1},{"x":91722700,"e":91723200,"f":1},{"x":91723200,"e":91723700,"f":1},{"x":91723700,"e":91724200,"f":2},{"x":91724200,"e":91724700,"f":1},{"x":91725200,"e":91725700,"f":1,"r":1},{"x":91725700,"e":91726200,"f":3,"r":1},{"x":91726200,"e":91726700,"f":1,"r":1},{"x":91726700,"e":91727200,"r":1},{"x":91727700,"e":91728200,"f":3},{"x":91728200,"e":91728700,"r":2},{"x":91729200,"e":91729700,"f":2},{"x":91732200,"e":91732700,"f":1},{"x":91733200,"e":91733700,"f":1},{"x":91734700,"e":91735200,"f":1,"r":1},{"x":91735200,"e":91735700,"f":1},{"x":91735700,"e":91736200,"r":1},{"x":91736700,"e":91737200,"f":1,"r":3},{"x":91737200,"e":91737700,"f":1},{"x":91737700,"e":91738200,"f":1,"r":1},{"x":91739200,"e":91739700,"r":1},{"x":91739700,"e":91740200,"r":1},{"x":91740200,"e":91740700,"r":1},{"x":91740700,"e":91741200,"r":1},{"x":91741200,"e":91741700,"f":1},{"x":91741700,"e":91742200,"f":1},{"x":91742700,"e":91743200,"f":2,"r":1},{"x":91743200,"e":91743700,"f":3},{"x":91743700,"e":91744200,"f":1},{"x":91744200,"e":91744700,"f":1},{"x":91744700,"e":91745200,"f":1},{"x":91745200,"e":91745700,"f":3,"r":2},{"x":91746200,"e":91746700,"f":3},{"x":91746700,"e":91747200,"r":2},{"x":91747200,"e":91747700,"r":2},{"x":91748200,"e":91748700,"r":1},{"x":91749700,"e":91750200,"f":3,"r":5},{"x":91750200,"e":91750700,"f":1},{"x":91750700,"e":91751200,"r":1},{"x":91751700,"e":91752200,"f":2},{"x":91752200,"e":91752700,"f":2,"r":1},{"x":91752700,"e":91753200,"f":3},{"x":91753200,"e":91753700,"f":1},{"x":91754700,"e":91755200,"f":1,"r":1},{"x":91755200,"e":91755700,"f":3,"r":1},{"x":91755700,"e":91756200,"f":1,"r":1},{"x":91756200,"e":91756700,"r":3},{"x":91756700,"e":91757200,"r":2},{"x":91757200,"e":91757700,"f":1},{"x":91757700,"e":91758200,"r":4},{"x":91758700,"e":91759200,"r":2},{"x":91759200,"e":91759700,"f":1},{"x":91760200,"e":91760700,"r":1},{"x":91760700,"e":91761200,"r":1},{"x":91761200,"e":91761700,"f":2},{"x":91762200,"e":91762700,"f":1},{"x":91763200,"e":91763700,"f":1},{"x":91764200,"e":91764700,"f":1,"r":2},{"x":91764700,"e":91765200,"f":2},{"x":91765200,"e":91765700,"f":2,"r":1},{"x":91765700,"e":91766200,"f":1},{"x":91766200,"e":91766700,"f":1},{"x":91767200,"e":91767700,"f":4},{"x":91767700,"e":91768200,"r":2},{"x":91768200,"e":91768700,"f":1},{"x":91769700,"e":91770200,"f":1,"r":1},{"x":91770200,"e":91770700,"f":2},{"x":91770700,"e":91771200,"f":1},{"x":91771200,"e":91771700,"r":2},{"x":91771700,"e":91772200,"f":2,"r":2},{"x":91772700,"e":91773200,"f":2},{"x":91774200,"e":91774700,"f":3,"r":3},{"x":91775200,"e":91775700,"r":1},{"x":91776200,"e":91776700,"f":2},{"x":91776700,"e":91777200,"f":1},{"x":91777200,"e":91777700,"f":1},{"x":91777700,"e":91778200,"f":1},{"x":91778200,"e":91778700,"f":1,"r":3},{"x":91780200,"e":91780700,"r":3},{"x":91781200,"e":91781700,"f":1},{"x":91781700,"e":91782200,"f":1},{"x":91782200,"e":91782700,"r":3},{"x":91782700,"e":91783200,"f":1},{"x":91783200,"e":91783700,"f":1,"r":1},{"x":91783700,"e":91784200,"f":1,"r":3},{"x":91784200,"e":91784700,"f":1},{"x":91784700,"e":91785200,"f":1,"r":1},{"x":91786200,"e":91786700,"f":1},{"x":91786700,"e":91787200,"f":2,"r":2},{"x":91787700,"e":91788200,"f":1},{"x":91788200,"e":91788700,"f":1},{"x":91789700,"e":91790200,"r":2},{"x":91790200,"e":91790700,"f":1,"r":2},{"x":91790700,"e":91791200,"f":1},{"x":91791700,"e":91792200,"f":3,"r":1},{"x":91792200,"e":91792700,"r":1},{"x":91792700,"e":91793200,"f":3},{"x":91793200,"e":91793700,"f":1},{"x":91793700,"e":91794200,"r":2},{"x":91794700,"e":91795200,"f":1},{"x":91795200,"e":91795700,"f":2,"r":2},{"x":91796200,"e":91796700,"f":2,"r":1},{"x":91796700,"e":91797200,"f":1,"r":2},{"x":91797200,"e":91797700,"r":1},{"x":91797700,"e":91798200,"r":1},{"x":91799700,"e":91800200,"f":1,"r":1},{"x":91800700,"e":91801200,"f":1},{"x":91801700,"e":91802200,"f":1,"r":1},{"x":91802200,"e":91802700,"f":1},{"x":91802700,"e":91803200,"f":1,"r":1},{"x":91803700,"e":91804200,"r":4},{"x":91804700,"e":91805200,"f":4},{"x":91805700,"e":91806200,"f":2},{"x":91806200,"e":91806700,"r":1},{"x":91806700,"e":91807200,"r":1},{"x":91807200,"e":91807700,"r":1},{"x":91807700,"e":91808200,"r":1},{"x":91808200,"e":91808700,"r":2},{"x":91808700,"e":91809200,"f":1},{"x":91810200,"e":91810700,"r":2},{"x":91811200,"e":91811700,"f":2},{"x":91811700,"e":91812200,"f":3},{"x":91812700,"e":91813200,"r":1},{"x":91813700,"e":91814200,"f":1,"r":2},{"x":91814200,"e":91814700,"f":2,"r":3},{"x":91814700,"e":91815200,"f":2,"r":1},{"x":91815200,"e":91815700,"f":2,"r":1},{"x":91815700,"e":91816200,"f":1},{"x":91816700,"e":91817200,"r":1},{"x":91817200,"e":91817700,"f":1,"r":1},{"x":91817700,"e":91818200,"r":1},{"x":91818200,"e":91818700,"f":1},{"x":91818700,"e":91819200,"r":2},{"x":91819200,"e":91819700,"f":1},{"x":91819700,"e":91820200,"r":1},{"x":91820200,"e":91820700,"f":2},{"x":91820700,"e":91821200,"f":1},{"x":91821200,"e":91821700,"f":1},{"x":91822200,"e":91822700,"f":1,"r":2},{"x":91823700,"e":91824200,"f":1,"r":1},{"x":91825700,"e":91826200,"f":4},{"x":91826700,"e":91827200,"f":3,"r":4},{"x":91828200,"e":91828700,"f":1,"r":1},{"x":91828700,"e":91829200,"r":1},{"x":91829200,"e":91829700,"r":1},{"x":91830700,"e":91831200,"f":3,"r":2},{"x":91831200,"e":91831700,"f":1,"r":2},{"x":91832200,"e":91832700,"r":2},{"x":91832700,"e":91833200,"r":2},{"x":91833200,"e":91833700,"r":2},{"x":91834200,"e":91834700,"f":1},{"x":91834700,"e":91835200,"f":2},{"x":91835200,"e":91835700,"f":2},{"x":91835700,"e":91836200,"f":1},{"x":91837200,"e":91837700,"f":1},{"x":91838200,"e":91838700,"r":2},{"x":91839200,"e":91839700,"r":2},{"x":91839700,"e":91840200,"f":2},{"x":91840200,"e":91840700,"f":3},{"x":91840700,"e":91841200,"r":1},{"x":91841200,"e":91841700,"f":5},{"x":91843200,"e":91843700,"f":2,"r":1},{"x":91844200,"e":91844700,"r":2},{"x":91845700,"e":91846200,"f":1},{"x":91846200,"e":91846700,"f":1},{"x":91846700,"e":91847200,"f":2,"r":2},{"x":91847200,"e":91847700,"f":2,"r":1},{"x":91847700,"e":91848200,"f":2,"r":2},{"x":91848200,"e":91848700,"f":1},{"x":91848700,"e":91849200,"r":2},{"x":91849700,"e":91850200,"f":1},{"x":91850200,"e":91850700,"f":1},{"x":91850700,"e":91851200,"f":3},{"x":91851200,"e":91851700,"f":1,"r":2},{"x":91851700,"e":91852200,"f":2},{"x":91852200,"e":91852700,"f":3,"r":1},{"x":91852700,"e":91853200,"f":2},{"x":91853200,"e":91853700,"f":1},{"x":91853700,"e":91854200,"r":2},{"x":91854200,"e":91854700,"r":2},{"x":91855200,"e":91855700,"f":1},{"x":91855700,"e":91856200,"r":4},{"x":91856200,"e":91856700,"f":1},{"x":91857700,"e":91858200,"r":1},{"x":91858700,"e":91859200,"r":1},{"x":91859700,"e":91860200,"f":1}
]
},
"vconcat":[
  {"width":1276,"height":93,
   "layer":[
    {"data":{"name":"hnf"},"mark":{"type":"rect","color":"#F1542B","stroke":"#F1542B","strokeWidth":0.4,"clip":false},
     "encoding":{
      "x":{"field":"x","type":"quantitative","scale":{"domain":[91640800,91860100],"nice":false,"zero":false},"axis":null},
      "x2":{"field":"e"},
      "y":{"field":"f","type":"quantitative","scale":{"domain":[0,40],"nice":false},
           "axis":{"values":[0,20,40],"title":null,"domainColor":"#000","tickColor":"#000","tickSize":7,"labelPadding":9,"labelFont":"Liberation Sans","labelFontSize":18,"labelColor":"#111"}},
      "y2":{"datum":0}}},
    {"data":{"values":[{}]},"mark":{"type":"text","text":"HNF4α","font":"Open Sans","fontSize":26,"align":"center","baseline":"alphabetic","color":"#111"},
     "encoding":{"x":{"datum":91810700},"y":{"datum":22}}}
   ]},
  {"width":1276,"height":109,
   "layer":[
    {"data":{"name":"hnf"},"mark":{"type":"rect","color":"#687EBF","stroke":"#687EBF","strokeWidth":0.4,"clip":false},
     "encoding":{
      "x":{"field":"x","type":"quantitative","scale":{"domain":[91640800,91860100],"nice":false,"zero":false},"axis":null},
      "x2":{"field":"e"},
      "y":{"field":"r","type":"quantitative","scale":{"domain":[0,40],"nice":false,"reverse":true},
           "axis":{"values":[20,40],"title":null,"domainColor":"#000","tickColor":"#000","tickSize":7,"labelPadding":9,"labelFont":"Liberation Sans","labelFontSize":18,"labelColor":"#111"}},
      "y2":{"datum":0}}},
    {"data":{"values":[{}]},"mark":{"type":"rule","color":"#000","opacity":0.6,"strokeWidth":2},
     "encoding":{"y":{"datum":0}}}
   ]},
  {"width":1276,"height":51,"data":{"values":[]},"mark":"point","encoding":{}},
  {"width":1276,"height":189,
   "layer":[
    {"data":{"name":"h3k"},"mark":{"type":"rect","color":"#F1542B","stroke":"#F1542B","strokeWidth":0.4,"clip":false},
     "encoding":{
      "x":{"field":"x","type":"quantitative","scale":{"domain":[91640800,91860100],"nice":false,"zero":false},"axis":null},
      "x2":{"field":"e"},
      "y":{"field":"f","type":"quantitative","scale":{"domain":[0,150],"nice":false},
           "axis":{"values":[0,50,100,150],"title":null,"domainColor":"#000","tickColor":"#000","tickSize":7,"labelPadding":9,"labelFont":"Liberation Sans","labelFontSize":18,"labelColor":"#111"}},
      "y2":{"datum":0}}},
    {"data":{"values":[{}]},"mark":{"type":"text","text":"H3K4me3","font":"Open Sans","fontSize":26,"align":"center","baseline":"alphabetic","color":"#111"},
     "encoding":{"x":{"datum":91811300},"y":{"datum":48.4}}}
   ]},
  {"width":1276,"height":214,
   "layer":[
    {"data":{"name":"h3k"},"mark":{"type":"rect","color":"#687EBF","stroke":"#687EBF","strokeWidth":0.4,"clip":false},
     "encoding":{
      "x":{"field":"x","type":"quantitative","scale":{"domain":[91640800,91860100],"nice":false,"zero":false},"axis":null},
      "x2":{"field":"e"},
      "y":{"field":"r","type":"quantitative","scale":{"domain":[0,150],"nice":false,"reverse":true},
           "axis":{"values":[50,100,150],"title":null,"domainColor":"#000","tickColor":"#000","tickSize":7,"labelPadding":9,"labelFont":"Liberation Sans","labelFontSize":18,"labelColor":"#111"}},
      "y2":{"datum":0}}},
    {"data":{"values":[{}]},"mark":{"type":"rule","color":"#000","opacity":0.6,"strokeWidth":2},
     "encoding":{"y":{"datum":0}}}
   ]},
  {"width":1276,"height":34,"data":{"values":[]},"mark":"point","encoding":{}},
  {"width":1276,"height":20,
   "layer":[
    {"data":{"name":"inp"},"mark":{"type":"rect","color":"#F1542B","stroke":"#F1542B","strokeWidth":0.4,"clip":false},
     "encoding":{
      "x":{"field":"x","type":"quantitative","scale":{"domain":[91640800,91860100],"nice":false,"zero":false},"axis":null},
      "x2":{"field":"e"},
      "y":{"field":"f","type":"quantitative","scale":{"domain":[0,5],"nice":false},
           "axis":{"values":[0,5],"title":null,"domainColor":"#000","tickColor":"#000","tickSize":7,"labelPadding":9,"labelFont":"Liberation Sans","labelFontSize":18,"labelColor":"#111"}},
      "y2":{"datum":0}}},
    {"data":{"values":[{}]},"mark":{"type":"text","text":"Input","font":"Open Sans","fontSize":26,"align":"center","baseline":"alphabetic","color":"#111"},
     "encoding":{"x":{"datum":91810400},"y":{"datum":15.2}}}
   ]},
  {"width":1276,"height":21,
   "layer":[
    {"data":{"name":"inp"},"mark":{"type":"rect","color":"#687EBF","stroke":"#687EBF","strokeWidth":0.4,"clip":false},
     "encoding":{
      "x":{"field":"x","type":"quantitative","scale":{"domain":[91640800,91860100],"nice":false,"zero":false},
           "axis":{"values":[91650000,91700000,91750000,91800000,91850000],"format":",d","title":null,"domain":false,"tickColor":"#000","tickSize":5,"offset":19,"labelPadding":8,"labelOffset":5,"labelFlush":false,"labelFont":"Liberation Sans","labelFontSize":18,"labelColor":"#111"}},
      "x2":{"field":"e"},
      "y":{"field":"r","type":"quantitative","scale":{"domain":[0,5],"nice":false,"reverse":true},
           "axis":{"values":[5],"title":null,"domainColor":"#000","tickColor":"#000","tickSize":7,"labelPadding":9,"labelFont":"Liberation Sans","labelFontSize":18,"labelColor":"#111"}},
      "y2":{"datum":0}}},
    {"data":{"values":[{}]},"mark":{"type":"rule","color":"#000","opacity":0.6,"strokeWidth":2},
     "encoding":{"y":{"datum":0}}},
    {"data":{"values":[{}]},"mark":{"type":"rule","color":"#000","strokeWidth":1,"clip":false},
     "encoding":{"x":{"datum":91650000},"x2":{"datum":91850000},"y":{"datum":9.5238}}}
   ]}
],
"spacing":0,
"bounds":"flush"
}
